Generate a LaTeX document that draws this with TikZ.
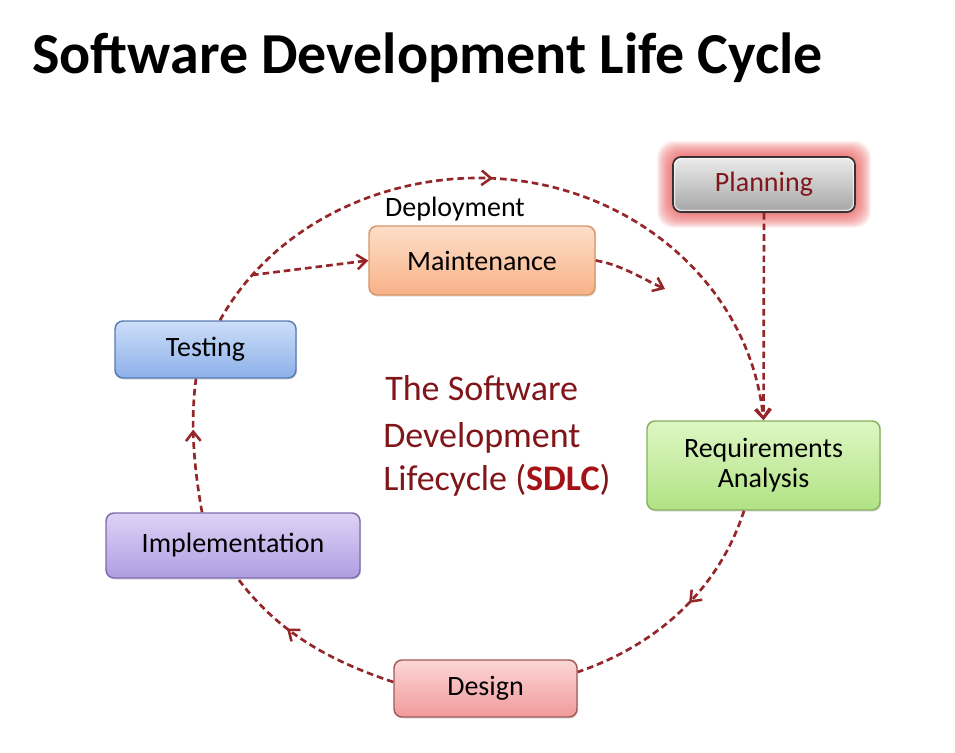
\documentclass[tikz,border=0pt]{standalone}
\usepackage{fontspec}
\setmainfont{Carlito}
\usetikzlibrary{arrows.meta,decorations.markings,shadows}

\definecolor{flowred}{RGB}{148,38,42}
\definecolor{deepred}{RGB}{128,22,26}
\definecolor{brightred}{RGB}{165,18,22}
\definecolor{glowred}{RGB}{238,100,100}
\definecolor{planTop}{RGB}{236,236,236}\definecolor{planBot}{RGB}{166,166,166}\definecolor{planEdge}{RGB}{58,48,48}
\definecolor{mainTop}{RGB}{253,222,200}\definecolor{mainBot}{RGB}{248,178,136}\definecolor{mainEdge}{RGB}{214,150,104}
\definecolor{testTop}{RGB}{204,222,248}\definecolor{testBot}{RGB}{140,176,234}\definecolor{testEdge}{RGB}{88,122,178}
\definecolor{reqTop}{RGB}{222,247,196}\definecolor{reqBot}{RGB}{176,226,132}\definecolor{reqEdge}{RGB}{134,176,92}
\definecolor{implTop}{RGB}{222,210,245}\definecolor{implBot}{RGB}{174,158,226}\definecolor{implEdge}{RGB}{124,108,172}
\definecolor{desTop}{RGB}{252,214,214}\definecolor{desBot}{RGB}{240,154,154}\definecolor{desEdge}{RGB}{162,90,90}

\pgfdeclarelayer{background}
\pgfsetlayers{background,main}

\tikzset{
  phase/.style n args={3}{rounded corners=6pt, line width=1.1pt, inner sep=0pt,
    align=center, font=\fontsize{21}{22.5}\selectfont,
    draw=#1Edge, top color=#1Top, bottom color=#1Bot,
    minimum width=#2, minimum height=#3,
    drop shadow={shadow xshift=0.8pt, shadow yshift=-1.2pt, opacity=0.25}},
  flow/.style={draw=flowred, line width=2pt, dash pattern=on 5pt off 3pt},
  tip/.tip={Straight Barb[length=7pt, width=11pt, line width=1.9pt]},
  midarrow/.style={postaction={decorate},
    decoration={markings, mark=at position #1 with {\arrow{tip}}}},
}

\begin{document}
\begin{tikzpicture}[x=0.75pt, y=-0.75pt]
  \useasboundingbox (0,0) rectangle (955,752);

  % heading
  \node[anchor=base west, inner sep=0pt, font=\fontsize{43.5}{50}\selectfont\bfseries]
    (title) at (32,74) {Software Development Life Cycle};

  % phase boxes
  \node[phase={plan}{136.5pt}{41.25pt}, draw=planEdge, line width=1.3pt, text=deepred]
    (planning) at (764,184.5) {Planning};
  \node[phase={main}{169.5pt}{51.75pt}] (maint) at (482,260.5) {Maintenance};
  \node[phase={test}{135.75pt}{42.75pt}] (testing) at (205.5,349.5) {Testing};
  \node[phase={req}{174.75pt}{66.75pt}] (req) at (763.5,465.5)
    {Requirements\\Analysis};
  \node[phase={impl}{190.5pt}{48.75pt}] (impl) at (233,545.5) {Implementation};
  \node[phase={des}{137.25pt}{42.75pt}] (design) at (485.5,688.5) {Design};

  % inner highlight of the selected phase
  \draw[white, opacity=0.75, line width=0.8pt, rounded corners=5pt]
    ([shift={(2.5,2.5)}]planning.north west) rectangle ([shift={(-2.5,-2.5)}]planning.south east);

  % white page and soft red glow around the selected phase
  \begin{pgfonlayer}{background}
    \fill[white] (0,0) rectangle (955,752);
    \foreach \g in {15,14,...,1}{
      \fill[glowred, opacity=0.085, rounded corners=12pt]
        ([shift={(-\g,-\g)}]planning.north west) rectangle ([shift={(\g,\g)}]planning.south east);
    }
  \end{pgfonlayer}

  \node[anchor=base, inner sep=0pt, font=\fontsize{21}{22.5}\selectfont]
    (deploy) at (455,217) {Deployment};

  % centre caption
  \begin{scope}[every node/.style={anchor=base west, inner sep=0pt, text=deepred,
      font=\fontsize{27}{32}\selectfont}]
    \node (cap1) at (385,400) {The Software};
    \node (cap2) at (383,447) {Development};
    \node (cap3) at (383,490) {Lifecycle (\textbf{\textcolor{brightred}{SDLC}})};
  \end{scope}

  % cycle connectors
  \coordinate (tstart) at ([shift={(14.5,0)}]testing.north);
  \coordinate (ctop) at (478,178);
  \coordinate (branch) at (252,275);
  \coordinate (mout) at (665,289);

  \draw[flow, midarrow=0.45, -{tip}] (tstart)
    .. controls (268.7,232.2) and (371,178) .. (ctop)
    .. controls (626,178) and (749.6,282.2) .. (req.north);
  \draw[flow, -{tip}] (branch) -- (maint.west);
  \draw[flow, -{tip}] (maint.east) .. controls +(25,4) and +(-22,-10) .. (mout);
  \draw[flow, -{tip}] (planning.south) -- (req.north);
  \draw[flow, midarrow=0.45] ([shift={(-19.5,0)}]req.south)
    .. controls +(-24.8,76.8) and +(82.3,-28.2) .. ([shift={(0,-16.5)}]design.east);
  \draw[flow, midarrow=0.63] ([shift={(0,-6.5)}]design.west)
    .. controls +(-63.6,-21.2) and +(40,53.6) .. ([shift={(5,0)}]impl.south);
  \draw[flow, midarrow=0.62] ([shift={(-31,0)}]impl.north)
    .. controls +(-8,-45) and +(-6,45) .. ([shift={(-9.5,0)}]testing.south);
\end{tikzpicture}
\end{document}
